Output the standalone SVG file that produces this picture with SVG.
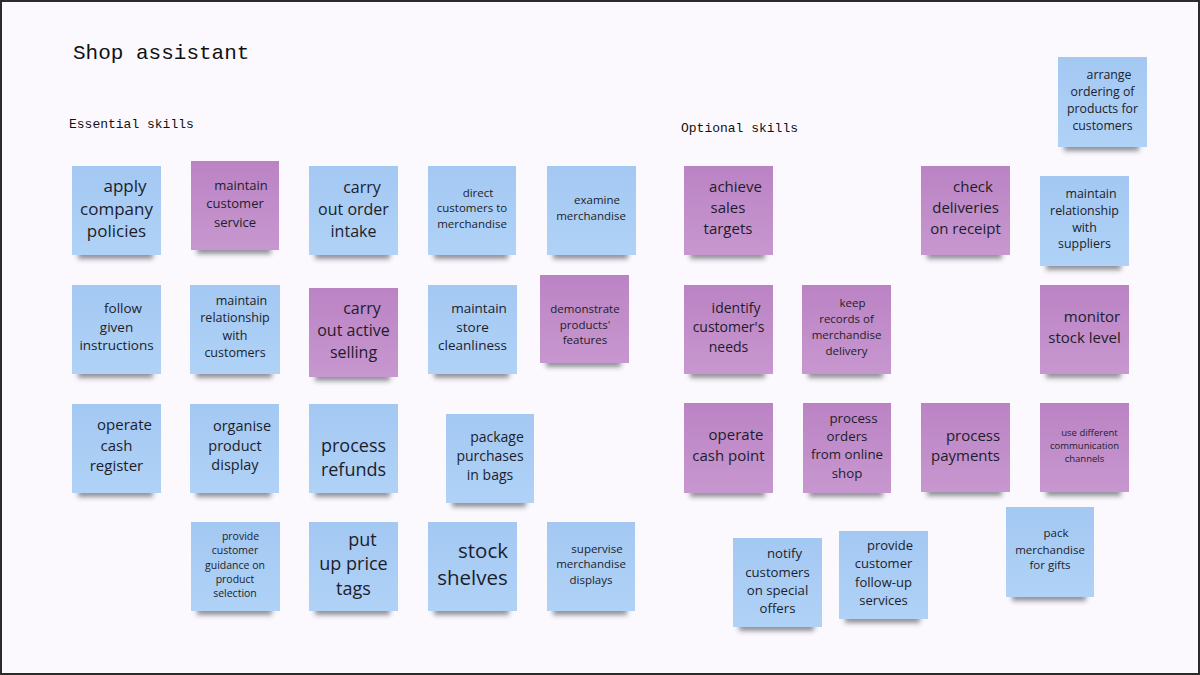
<svg xmlns="http://www.w3.org/2000/svg" width="1200" height="675" viewBox="0 0 1200 675">
<defs>
<linearGradient id="gb" x1="0" y1="0" x2="0" y2="1"><stop offset="0" stop-color="#a3c8f2"/><stop offset="1" stop-color="#b0d2f7"/></linearGradient>
<linearGradient id="gp" x1="0" y1="0" x2="0" y2="1"><stop offset="0" stop-color="#bb83c4"/><stop offset="1" stop-color="#c797cf"/></linearGradient>
<filter id="blur" x="-20%" y="-100%" width="140%" height="300%"><feGaussianBlur stdDeviation="2.6"/></filter>
<style>
.sh{fill:#2a2a38;opacity:.5;filter:url(#blur)}
.blue .bg{fill:url(#gb)}
.purple .bg{fill:url(#gp)}
.note text{font-family:"Open Sans","Noto Sans",sans-serif;fill:#1d1d2b;text-anchor:middle}
.mono{font-family:"Liberation Mono","DejaVu Sans Mono",monospace;fill:#111}
</style>
</defs>
<rect x="1" y="1" width="1198" height="673" fill="#fbf9fd" stroke="#2b2b2b" stroke-width="2"/>
<text class="mono" x="73" y="59" font-size="21">Shop assistant</text>
<text class="mono" x="69" y="128" font-size="13">Essential skills</text>
<text class="mono" x="681" y="132" font-size="13">Optional skills</text>
<g id="connectors"/>

<g id="n1" class="note blue"><rect class="sh" x="78" y="250" width="75" height="9"/><rect class="bg" x="72" y="166" width="89" height="89"/>
<text font-size="17"><tspan x="125" y="192">apply</tspan><tspan x="116.5" y="215">company</tspan><tspan x="116.5" y="237">policies</tspan></text></g>
<g id="n2" class="note purple"><rect class="sh" x="197" y="245" width="74" height="9"/><rect class="bg" x="191" y="161" width="88" height="89"/>
<text font-size="13"><tspan x="241" y="189.5">maintain</tspan><tspan x="235" y="207.5">customer</tspan><tspan x="235" y="226.5">service</tspan></text></g>
<g id="n3" class="note blue"><rect class="sh" x="315" y="250" width="75" height="9"/><rect class="bg" x="309" y="166" width="89" height="89"/>
<text font-size="16"><tspan x="362" y="192.6">carry</tspan><tspan x="353.5" y="214.6">out order</tspan><tspan x="353.5" y="236.6">intake</tspan></text></g>
<g id="n4" class="note blue"><rect class="sh" x="434" y="250" width="74" height="9"/><rect class="bg" x="428" y="166" width="88" height="89"/>
<text font-size="11.5"><tspan x="478" y="197">direct</tspan><tspan x="472" y="212">customers to</tspan><tspan x="472" y="228">merchandise</tspan></text></g>
<g id="n5" class="note blue"><rect class="sh" x="553" y="250" width="75" height="9"/><rect class="bg" x="547" y="166" width="89" height="89"/>
<text font-size="11.5"><tspan x="597" y="204">examine</tspan><tspan x="591" y="220">merchandise</tspan></text></g>

<g id="n6" class="note blue"><rect class="sh" x="78" y="369" width="75" height="9"/><rect class="bg" x="72" y="285" width="89" height="89"/>
<text font-size="13.5"><tspan x="123" y="312.7">follow</tspan><tspan x="116.5" y="331.7">given</tspan><tspan x="116.5" y="349.7">instructions</tspan></text></g>
<g id="n7" class="note blue"><rect class="sh" x="196" y="369" width="76" height="9"/><rect class="bg" x="190" y="285" width="90" height="89"/>
<text font-size="12.5"><tspan x="241.5" y="305.4">maintain</tspan><tspan x="235" y="322.4">relationship</tspan><tspan x="235" y="340.4">with</tspan><tspan x="235" y="357.4">customers</tspan></text></g>
<g id="n8" class="note purple"><rect class="sh" x="315" y="372" width="75" height="9"/><rect class="bg" x="309" y="288" width="89" height="89"/>
<text font-size="16"><tspan x="362" y="313.6">carry</tspan><tspan x="353.5" y="335.6">out active</tspan><tspan x="353.5" y="357.6">selling</tspan></text></g>
<g id="n9" class="note blue"><rect class="sh" x="434" y="369" width="75" height="9"/><rect class="bg" x="428" y="285" width="89" height="89"/>
<text font-size="13.5"><tspan x="479" y="312.7">maintain</tspan><tspan x="472.5" y="331.7">store</tspan><tspan x="472.5" y="349.7">cleanliness</tspan></text></g>
<g id="n10" class="note purple"><rect class="sh" x="546" y="358" width="75" height="9"/><rect class="bg" x="540" y="275" width="89" height="88"/>
<text font-size="11.5"><tspan x="585" y="313">demonstrate</tspan><tspan x="585" y="329">products'</tspan><tspan x="585" y="344">features</tspan></text></g>

<g id="n11" class="note blue"><rect class="sh" x="78" y="488" width="75" height="9"/><rect class="bg" x="72" y="404" width="89" height="89"/>
<text font-size="15"><tspan x="124.5" y="430">operate</tspan><tspan x="116.5" y="451">cash</tspan><tspan x="116.5" y="471">register</tspan></text></g>
<g id="n12" class="note blue"><rect class="sh" x="196" y="488" width="75" height="9"/><rect class="bg" x="190" y="404" width="89" height="89"/>
<text font-size="14.5"><tspan x="242" y="431">organise</tspan><tspan x="235" y="451">product</tspan><tspan x="235" y="470">display</tspan></text></g>
<g id="n13" class="note blue"><rect class="sh" x="315" y="488" width="75" height="9"/><rect class="bg" x="309" y="404" width="89" height="89"/>
<text font-size="18"><tspan x="353.5" y="452">process</tspan><tspan x="353.5" y="476">refunds</tspan></text></g>
<g id="n14" class="note blue"><rect class="sh" x="452" y="498" width="74" height="9"/><rect class="bg" x="446" y="414" width="88" height="89"/>
<text font-size="14"><tspan x="497" y="442">package</tspan><tspan x="490" y="461">purchases</tspan><tspan x="490" y="480">in bags</tspan></text></g>

<g id="n15" class="note blue"><rect class="sh" x="197" y="606" width="75" height="9"/><rect class="bg" x="191" y="522" width="89" height="89"/>
<text font-size="10.5"><tspan x="240.5" y="539.7">provide</tspan><tspan x="235" y="553.7">customer</tspan><tspan x="235" y="568.7">guidance on</tspan><tspan x="235" y="582.7">product</tspan><tspan x="235" y="596.7">selection</tspan></text></g>
<g id="n16" class="note blue"><rect class="sh" x="315" y="606" width="75" height="9"/><rect class="bg" x="309" y="522" width="89" height="89"/>
<text font-size="18"><tspan x="362.5" y="546">put</tspan><tspan x="353.5" y="570">up price</tspan><tspan x="353.5" y="595">tags</tspan></text></g>
<g id="n17" class="note blue"><rect class="sh" x="434" y="606" width="75" height="9"/><rect class="bg" x="428" y="522" width="89" height="89"/>
<text font-size="20.5"><tspan x="483" y="558">stock</tspan><tspan x="472.5" y="585">shelves</tspan></text></g>
<g id="n18" class="note blue"><rect class="sh" x="553" y="606" width="74" height="9"/><rect class="bg" x="547" y="522" width="88" height="89"/>
<text font-size="11.5"><tspan x="597" y="553">supervise</tspan><tspan x="591" y="568">merchandise</tspan><tspan x="591" y="584">displays</tspan></text></g>

<g id="n19" class="note purple"><rect class="sh" x="690" y="250" width="75" height="9"/><rect class="bg" x="684" y="166" width="89" height="89"/>
<text font-size="15"><tspan x="735.5" y="192">achieve</tspan><tspan x="728" y="213">sales</tspan><tspan x="728" y="234">targets</tspan></text></g>
<g id="n20" class="note purple"><rect class="sh" x="927" y="250" width="75" height="9"/><rect class="bg" x="921" y="166" width="89" height="89"/>
<text font-size="15"><tspan x="973" y="192">check</tspan><tspan x="965.5" y="213">deliveries</tspan><tspan x="965.5" y="234">on receipt</tspan></text></g>
<g id="n21" class="note blue"><rect class="sh" x="1064" y="142" width="75" height="9"/><rect class="bg" x="1058" y="57" width="89" height="90"/>
<text font-size="12.3"><tspan x="1109" y="79.3">arrange</tspan><tspan x="1102.5" y="96.3">ordering of</tspan><tspan x="1102.5" y="113.3">products for</tspan><tspan x="1102.5" y="130.3">customers</tspan></text></g>
<g id="n22" class="note blue"><rect class="sh" x="1046" y="261" width="75" height="9"/><rect class="bg" x="1040" y="176" width="89" height="90"/>
<text font-size="12.4"><tspan x="1091" y="198.3">maintain</tspan><tspan x="1084.5" y="215.3">relationship</tspan><tspan x="1084.5" y="232.3">with</tspan><tspan x="1084.5" y="248.3">suppliers</tspan></text></g>

<g id="n23" class="note purple"><rect class="sh" x="690" y="369" width="75" height="9"/><rect class="bg" x="684" y="285" width="89" height="89"/>
<text font-size="14"><tspan x="736" y="313">identify</tspan><tspan x="728.5" y="332">customer's</tspan><tspan x="728.5" y="352">needs</tspan></text></g>
<g id="n24" class="note purple"><rect class="sh" x="808" y="369" width="75" height="9"/><rect class="bg" x="802" y="285" width="89" height="89"/>
<text font-size="11.5"><tspan x="852.5" y="307">keep</tspan><tspan x="846.5" y="323">records of</tspan><tspan x="846.5" y="339">merchandise</tspan><tspan x="846.5" y="355">delivery</tspan></text></g>
<g id="n25" class="note purple"><rect class="sh" x="1046" y="369" width="75" height="9"/><rect class="bg" x="1040" y="285" width="89" height="89"/>
<text font-size="15"><tspan x="1092" y="322">monitor</tspan><tspan x="1084.5" y="343">stock level</tspan></text></g>

<g id="n26" class="note purple"><rect class="sh" x="690" y="488" width="75" height="9"/><rect class="bg" x="684" y="403" width="89" height="90"/>
<text font-size="15"><tspan x="736" y="440">operate</tspan><tspan x="728.5" y="461">cash point</tspan></text></g>
<g id="n27" class="note purple"><rect class="sh" x="809" y="488" width="74" height="9"/><rect class="bg" x="803" y="403" width="88" height="90"/>
<text font-size="13.3"><tspan x="853.5" y="422.7">process</tspan><tspan x="847" y="440.7">orders</tspan><tspan x="847" y="458.7">from online</tspan><tspan x="847" y="477.7">shop</tspan></text></g>
<g id="n28" class="note purple"><rect class="sh" x="927" y="487" width="75" height="9"/><rect class="bg" x="921" y="403" width="89" height="89"/>
<text font-size="15"><tspan x="973" y="441">process</tspan><tspan x="965.5" y="461">payments</tspan></text></g>
<g id="n29" class="note purple"><rect class="sh" x="1046" y="487" width="75" height="9"/><rect class="bg" x="1040" y="403" width="89" height="89"/>
<text font-size="9.5"><tspan x="1089.5" y="436.3">use different</tspan><tspan x="1084.5" y="449.3">communication</tspan><tspan x="1084.5" y="462.3">channels</tspan></text></g>

<g id="n30" class="note blue"><rect class="sh" x="1012" y="592" width="74" height="9"/><rect class="bg" x="1006" y="507" width="88" height="90"/>
<text font-size="11.5"><tspan x="1056" y="537">pack</tspan><tspan x="1050" y="554">merchandise</tspan><tspan x="1050" y="569">for gifts</tspan></text></g>
<g id="n31" class="note blue"><rect class="sh" x="739" y="622" width="75" height="9"/><rect class="bg" x="733" y="538" width="89" height="89"/>
<text font-size="13.2"><tspan x="784.5" y="557.6">notify</tspan><tspan x="777.5" y="576.6">customers</tspan><tspan x="777.5" y="594.6">on special</tspan><tspan x="777.5" y="612.6">offers</tspan></text></g>
<g id="n32" class="note blue"><rect class="sh" x="845" y="614" width="75" height="9"/><rect class="bg" x="839" y="531" width="89" height="88"/>
<text font-size="13"><tspan x="890" y="549.5">provide</tspan><tspan x="883.5" y="567.5">customer</tspan><tspan x="883.5" y="586.5">follow-up</tspan><tspan x="883.5" y="604.5">services</tspan></text></g>
</svg>
